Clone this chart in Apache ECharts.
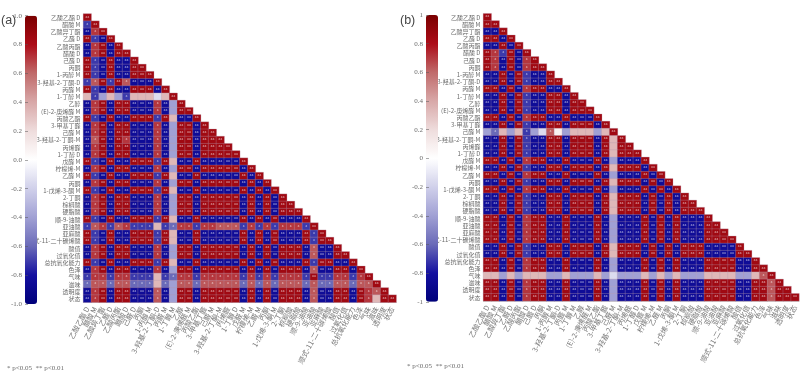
<!DOCTYPE html>
<html><head><meta charset="utf-8">
<script src="https://cdn.jsdelivr.net/npm/echarts@6/dist/echarts.min.js"></script>
<style>html,body{margin:0;background:#fff}#c{width:800px;height:382px}</style></head>
<body><div id="c"></div>
<script>
var labels = ['乙酸乙酯 D','醋酸 M','乙酸异丁酯','乙醛 D','乙酸丙酯','醋酸 D','己醛 D','丙酮','1-丙醇 M','3-羟基-2-丁酮-D','丙醛 M','1-丁醇 M','乙醇','(E)-2-庚烯醛 M','丙酸乙酯','3-甲基丁醛','己醛 M','3-羟基-2-丁酮-M','丙烯醛','1-丁醇 D','戊醛 M','柠檬烯-M','乙醛 M','丙酮','1-戊烯-3-酮 M','2-丁酮','棕榈酸','硬脂酸','顺-9-油酸','亚油酸','亚麻酸','顺式-11-二十碳烯酸','酸值','过氧化值','总抗氧化能力','色泽','气味','滋味','透明度','状态'];
var codes = {R:0.85,r:0.71,q:0.64,p:0.34,w:0.08,v:-0.15,l:-0.4,n:-0.6,m:-0.71,B:-0.85};
var rowsA = ['R','mR','BrR','RmBR','BrRBR','BrRBRR','RmBRBBR','RmBRBBRR','RmBRBBRRR','mqRmRqBBBR','RmBRBBRRRBR','pmlplmpppvpR',
'BrRBRRBBBrBlR','BrRBRRBBBrBlRR','RmBRBBRRRmRpBBR','BrRBRRBBBrBlRRBR','BrRBRRBBBrBlRRBRR','BqRBRrBBBrBlRRBRRR','BrRBRRBBBrBlRRBRRRR','BrRBRRBBBrBlRRBRRRRR',
'RmBRBBRRRmRpBBRBBBBBR','BrRBRRBBBrBlRRBRRRRRBR','RmBRBBRRRmRpBBRBBBBBRBR','BrRBRRBBBrBlRRBRRRRRBRBR','RmBRBBRRRmRpBBRBBBBBRBRBR','BrRBRRBBBrBlRRBRRRRRBRBRBR','BrRBRRBBBrBlRRBRRRRRBRBRBRR','BrRBRRBBBrBlRRBRRRRRBRBRBRRR',
'RmBRBBRRRmRpBBRBBBBBRBRBRBBBR','mqrmqrmmmpmnrrmrrqqqmrmrmrrrmR','RmBRBBRRRmRpBBRBBBBBRBRBRBBBRmR','RmBRBBRRRmRpBBRBBBBBRBRBRBBBRmRR',
'BrRBRRBBBrBlRRBRRRRRBRBRBRRRBqBBR','BrRBRRBBBrBlRRBRRRRRBRBRBRRRBqBBRR','RmBRBBRRRmRpBBRBBBBBRBRBRBBBRmRRBBR','BrRBRRBBBrBlRRBRRRRRBRBRBRRRBqBBRRBR',
'mrrmrrmmmpmnrrmrrrrrmrmrmrrrmRmmrrmrR','nqqnqqnnnpnlqqnqqqqqnqnqnqqqnqnnqqnqqR','BrRBRRBBBqBlRRBRRRRRBRBRBRRRBqBBRRBRrqR','BrRBRRBBBqBlRRBRRRRRBRBRBRRRBqBBRRBRrpRR'];
var rowsB = ['R','RR','BBR','RRBR','BBRBR','RrmRBR','RrBRBrR','RrBRBrRR','BBRBRmBBR','BBRBRmBBRR','RRBRBrRRBBR','BBRBRmBBRRBR','BBRBRmBBRRBRR','BBRBRmBBRRBRRR','RRBRBrRRBBRBBBR','BBRBRmBBRRBRRRBR',
'lnplpmlvqwlppplpR','BBRBRmBBRRBRRRBRpR','BBRBRmBBRRBRRRBRpRR','BBRBRmBBRRBRRRBRpRRR','RRBRBrRRBBRBBBRBlBBBR','BBRBRmBBRRBRRRBRpRRRBR','RRBRBrRRBBRBBBRBlBBBRBR','BBRBRmBBRRBRRRBRpRRRBRBR','RRBRBrRRBBRBBBRBlBBBRBRBR',
'BBRBRmBBRRBRRRBRpRRRBRBRBR','BBRBRmBBRRBRRRBRpRRRBRBRBRR','BBRBRmBBRRBRRRBRpRRRBRBRBRRR','RRBRBrRRBBRBBBRBlBBBRBRBRBBBR','RRBRBrRRBBRBBBRBlBBBRBRBRBBBRR','RRBRBrRRBBRBBBRBlBBBRBRBRBBBRRR','RRBRBrRRBBRBBBRBlBBBRBRBRBBBRRRR',
'BBRBRmBBRRBRRRBRpRRRBRBRBRRRBBBBR','BBRBRmBBRRBRRRBRpRRRBRBRBRRRBBBBRR','RRBRBrRRBBRBBBRBlBBBRBRBRBBBRRRRBBR','RRBRBrRRBBRBBBRBlBBBRBRBRBBBRRRRBBRR',
'pplplpppllplllplvlllplplplllppppllpqR','RRBRBrRRBBRBBBRBlBBBRBRBRBBBRRRRBBRRqR','RRBRBrRRBBRBBBRBlBBBRBRBRBBBRRRRBBRRqRR','RRBRBrRRBBRBBBRBlBBBRBRBRBBBRRRRBBRRqRRR'];
var scaleColors = ['#00007a','#1410a0','#6a6ab8','#a0a0d4','#d0d0ea','#ffffff','#eedcdc','#d8a8a8','#c06a6a','#ac0c18','#7a0000'];

function cells(rows){
  var out = [];
  rows.forEach(function(s,i){ for (var j=0;j<s.length;j++) out.push([j,i,codes[s[j]]]); });
  return out;
}
var txt = '#6a6a6a';
function heat(g,rows){
  return {type:'heatmap',xAxisIndex:g,yAxisIndex:g,data:cells(rows),progressive:0,
    itemStyle:{borderColor:'#b79aae',borderWidth:0.3},
    label:{show:true,fontSize:4,lineHeight:4,color:'rgba(255,255,255,0.85)',fontFamily:'DejaVu Sans',
      formatter:function(p){var a=Math.abs(p.value[2]);return a>=0.75?'**':(a>=0.6?'*':'');}},
    emphasis:{disabled:true}};
}
function catX(g){return {type:'category',gridIndex:g,data:labels,position:'bottom',
  axisLine:{onZero:false,lineStyle:{color:'#aaa',width:0.5}},axisTick:{show:false},splitLine:{show:false},
  axisLabel:{interval:0,rotate:62,fontSize:7.2,color:'#777',margin:5,hideOverlap:false,fontFamily:'Noto Sans CJK SC'}};}
function catY(g){return {type:'category',gridIndex:g,data:labels,inverse:true,
  axisLine:{show:false},axisTick:{show:false},splitLine:{show:false},
  axisLabel:{interval:0,fontSize:6,color:txt,margin:3,hideOverlap:false,fontFamily:'Noto Sans CJK SC'}};}
function barY(g,fmt){return {type:'value',gridIndex:g,min:-1,max:1,interval:0.2,z:10,
  axisLine:{show:false},axisTick:{show:true,inside:true,length:3,lineStyle:{color:'#555',width:0.5}},splitLine:{show:false},
  axisLabel:{fontSize:7,color:txt,margin:3,fontFamily:'Liberation Serif',formatter:fmt}};}
function barX(g){return {type:'value',gridIndex:g,show:false,min:0,max:1};}
function note(x,y,t,size,col,fam){return {type:'text',left:x,top:y,silent:true,style:{text:t,fontSize:size,fill:col,fontFamily:fam}};}

var chart = echarts.init(document.getElementById('c'),null,{renderer:'canvas'});
chart.setOption({
  animation:false,backgroundColor:'#fff',
  grid:[
    {left:83.4,top:13.9,width:312.8,height:288.4,outerBoundsMode:'none'},
    {left:483.4,top:13.7,width:315.6,height:287.2,outerBoundsMode:'none'},
    {left:25,top:15.7,width:12,height:288.3,outerBoundsMode:'none'},
    {left:426,top:15,width:12,height:286.8,outerBoundsMode:'none'}
  ],
  xAxis:[catX(0),catX(1),barX(2),barX(3)],
  yAxis:[catY(0),catY(1),
    barY(2,function(v){return v.toFixed(1);}),
    barY(3,function(v){return String(Math.round(v*10)/10);})],
  visualMap:[
    {type:'continuous',min:-1,max:1,seriesIndex:0,left:25,top:15.7,padding:0,itemWidth:12,itemHeight:288.3,showLabel:false,calculable:false,inRange:{color:scaleColors}},
    {type:'continuous',min:-1,max:1,seriesIndex:1,left:426,top:15,padding:0,itemWidth:12,itemHeight:286.8,showLabel:false,calculable:false,inRange:{color:scaleColors}}
  ],
  series:[heat(0,rowsA),heat(1,rowsB)],
  graphic:[
    note(1,14,'(a)',12.5,'#444','Liberation Sans'),
    note(400,14,'(b)',12.5,'#444','Liberation Sans'),
    note(7,365,'* p<0.05  ** p<0.01',7,txt,'Liberation Serif'),
    note(407,363,'* p<0.05  ** p<0.01',7,txt,'Liberation Serif')
  ]
});
</script></body></html>
